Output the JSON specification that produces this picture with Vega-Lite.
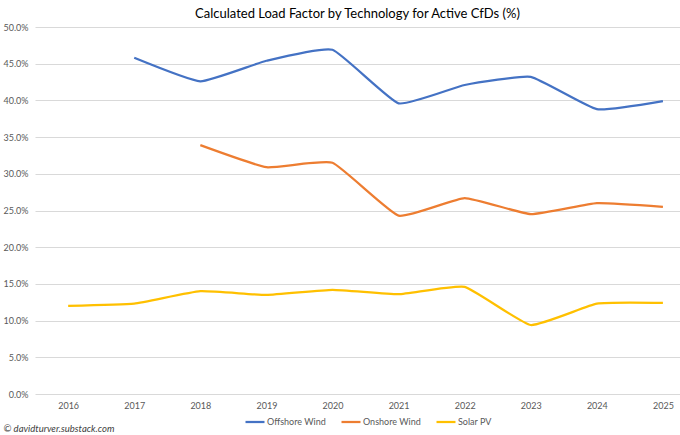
{
  "$schema": "https://vega.github.io/schema/vega-lite/v6.json",
  "width": 645,
  "height": 367,
  "autosize": {"type": "none"},
  "padding": {"left": 35, "top": 27, "right": 0, "bottom": 41},
  "background": "white",
  "title": {
    "text": "Calculated Load Factor by Technology for Active CfDs (%)",
    "font": "Lato",
    "fontSize": 13,
    "fontWeight": "normal",
    "color": "#000000",
    "anchor": "middle",
    "offset": 2
  },
  "config": {
    "view": {"stroke": null},
    "font": "Lato"
  },
  "data": {
    "values": [
      {"year": "2017", "series": "Offshore Wind", "value": 0.458},
      {"year": "2018", "series": "Offshore Wind", "value": 0.426},
      {"year": "2019", "series": "Offshore Wind", "value": 0.454},
      {"year": "2020", "series": "Offshore Wind", "value": 0.469},
      {"year": "2021", "series": "Offshore Wind", "value": 0.396},
      {"year": "2022", "series": "Offshore Wind", "value": 0.421},
      {"year": "2023", "series": "Offshore Wind", "value": 0.432},
      {"year": "2024", "series": "Offshore Wind", "value": 0.388},
      {"year": "2025", "series": "Offshore Wind", "value": 0.399},
      {"year": "2018", "series": "Onshore Wind", "value": 0.339},
      {"year": "2019", "series": "Onshore Wind", "value": 0.309},
      {"year": "2020", "series": "Onshore Wind", "value": 0.315},
      {"year": "2021", "series": "Onshore Wind", "value": 0.243},
      {"year": "2022", "series": "Onshore Wind", "value": 0.267},
      {"year": "2023", "series": "Onshore Wind", "value": 0.245},
      {"year": "2024", "series": "Onshore Wind", "value": 0.260},
      {"year": "2025", "series": "Onshore Wind", "value": 0.255},
      {"year": "2016", "series": "Solar PV", "value": 0.120},
      {"year": "2017", "series": "Solar PV", "value": 0.123},
      {"year": "2018", "series": "Solar PV", "value": 0.140},
      {"year": "2019", "series": "Solar PV", "value": 0.135},
      {"year": "2020", "series": "Solar PV", "value": 0.142},
      {"year": "2021", "series": "Solar PV", "value": 0.136},
      {"year": "2022", "series": "Solar PV", "value": 0.146},
      {"year": "2023", "series": "Solar PV", "value": 0.094},
      {"year": "2024", "series": "Solar PV", "value": 0.123},
      {"year": "2025", "series": "Solar PV", "value": 0.124}
    ]
  },
  "mark": {"type": "line", "strokeWidth": 2.25, "interpolate": "cardinal", "tension": 0.6},
  "encoding": {
    "x": {
      "field": "year",
      "type": "ordinal",
      "scale": {
        "type": "point",
        "domain": ["2016", "2017", "2018", "2019", "2020", "2021", "2022", "2023", "2024", "2025"],
        "padding": 0.38,
        "align": 0.66
      },
      "axis": {
        "title": "© davidturver.substack.com",
        "titleFont": "Lato",
        "titleFontStyle": "italic",
        "titleFontWeight": "normal",
        "titleFontSize": 9.5,
        "titleColor": "#404040",
        "titleAnchor": "start",
        "titleAlign": "left",
        "titleBaseline": "alphabetic",
        "titleX": -32,
        "titleY": 37,
        "domain": false,
        "ticks": false,
        "labelAngle": 0,
        "labelFontSize": 9,
        "labelColor": "#595959",
        "labelPadding": 7,
        "grid": false
      }
    },
    "y": {
      "field": "value",
      "type": "quantitative",
      "scale": {"domain": [0, 0.5], "nice": false, "zero": true},
      "axis": {
        "title": null,
        "format": ".1%",
        "values": [0, 0.05, 0.1, 0.15, 0.2, 0.25, 0.3, 0.35, 0.4, 0.45, 0.5],
        "domain": false,
        "ticks": false,
        "labelFontSize": 9,
        "labelColor": "#595959",
        "labelPadding": 7,
        "grid": true,
        "gridColor": "#D9D9D9",
        "gridWidth": 1
      }
    },
    "color": {
      "field": "series",
      "type": "nominal",
      "scale": {
        "domain": ["Offshore Wind", "Onshore Wind", "Solar PV"],
        "range": ["#4472C4", "#ED7D31", "#FFC000"]
      },
      "legend": {
        "title": null,
        "orient": "none",
        "legendX": 209,
        "legendY": 384,
        "direction": "horizontal",
        "symbolType": "stroke",
        "symbolStrokeWidth": 2.25,
        "symbolSize": 361,
        "labelFontSize": 9,
        "labelColor": "#595959",
        "labelOffset": 1,
        "columnPadding": 11
      }
    }
  }
}
